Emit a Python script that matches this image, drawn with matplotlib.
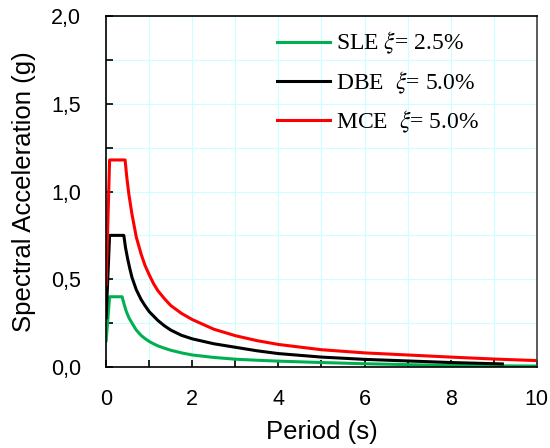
import matplotlib
matplotlib.use("Agg")
import matplotlib.pyplot as plt
from matplotlib.ticker import MultipleLocator, FuncFormatter

# values (period in s, Sa in g)
t_sle = [0, 0.08, 0.37, 0.42, 0.47, 0.53, 0.6, 0.7, 0.81, 0.9, 1.0, 1.1, 1.2, 1.35, 1.5, 1.75, 2.0, 2.5, 3.0, 3.5, 4.0, 5.0, 6.0, 7.0, 8.0, 9.0, 10.0]
sa_sle = [0.15, 0.40, 0.40, 0.355, 0.315, 0.28, 0.25, 0.21, 0.18, 0.162, 0.145, 0.132, 0.12, 0.107, 0.095, 0.08, 0.068, 0.054, 0.044, 0.038, 0.033, 0.025, 0.018, 0.013, 0.008, 0.006, 0.005]

t_dbe = [0, 0.08, 0.41, 0.45, 0.5, 0.55, 0.6, 0.7, 0.81, 0.9, 1.0, 1.1, 1.2, 1.35, 1.5, 1.75, 2.0, 2.5, 3.0, 3.5, 4.0, 5.0, 6.0, 7.0, 8.0, 9.2]
sa_dbe = [0.28, 0.75, 0.75, 0.68, 0.615, 0.56, 0.51, 0.44, 0.385, 0.35, 0.315, 0.29, 0.265, 0.235, 0.21, 0.18, 0.16, 0.132, 0.112, 0.092, 0.076, 0.056, 0.043, 0.034, 0.025, 0.017]

t_mce = [0, 0.08, 0.44, 0.48, 0.53, 0.6, 0.7, 0.81, 0.9, 1.0, 1.1, 1.2, 1.35, 1.5, 1.75, 2.0, 2.5, 3.0, 3.5, 4.0, 5.0, 6.0, 7.0, 8.0, 9.0, 10.0]
sa_mce = [0.47, 1.18, 1.18, 1.08, 0.98, 0.87, 0.74, 0.645, 0.58, 0.525, 0.475, 0.435, 0.39, 0.35, 0.305, 0.27, 0.215, 0.178, 0.15, 0.128, 0.098, 0.08, 0.068, 0.056, 0.045, 0.036]

labels = [r"SLE $\xi$= 2.5%", r"DBE  $\xi$= 5.0%", r"MCE  $\xi$= 5.0%"]

plt.rcParams['mathtext.fontset'] = 'stix'

fig = plt.figure(figsize=(5.5, 4.48), dpi=100)
ax = fig.add_axes([0.193, 0.181, 0.783, 0.783])

ax.plot(t_sle, sa_sle, color='#00B050', lw=2.2, label=labels[0])
ax.plot(t_dbe, sa_dbe, color='black', lw=2.2, label=labels[1])
ax.plot(t_mce, sa_mce, color='#FF0000', lw=2.2, label=labels[2])

ax.set_xlim(0, 10)
ax.set_ylim(0, 2.0)

# grid: every 1 s and every 0.25 g
ax.xaxis.set_major_locator(MultipleLocator(2))
ax.xaxis.set_minor_locator(MultipleLocator(1))
ax.yaxis.set_major_locator(MultipleLocator(0.5))
ax.yaxis.set_minor_locator(MultipleLocator(0.25))
ax.grid(True, which='both', color='#CCFFFF', lw=0.8)
ax.set_axisbelow(True)

ax.tick_params(which='both', direction='in', top=False, right=False,
               length=5, width=1.2, labelsize=15.5, labelfontfamily='Liberation Sans')
ax.tick_params(axis='x', pad=16)
ax.tick_params(axis='y', pad=18)
ax.xaxis.set_major_formatter(FuncFormatter(lambda v, p: f"{v:.0f}"))
ax.yaxis.set_major_formatter(FuncFormatter(lambda v, p: f"{v:.1f}".replace('.', ',')))

for s in ax.spines.values():
    s.set_linewidth(1.2)
ax.spines['right'].set_color('#404040')

ax.set_xlabel('Period (s)', fontsize=18.5, family='Liberation Sans', labelpad=7)
ax.set_ylabel('Spectral Acceleration (g)', fontsize=18.5, family='Liberation Sans', labelpad=11)

leg = ax.legend(loc='upper left', frameon=False, prop={'family': 'Liberation Serif', 'size': 17},
                handlelength=2.25, handletextpad=0.25, labelspacing=0.55,
                borderpad=0, borderaxespad=0, bbox_to_anchor=(0.397, 0.96))

fig.savefig('out.png', dpi=100)
